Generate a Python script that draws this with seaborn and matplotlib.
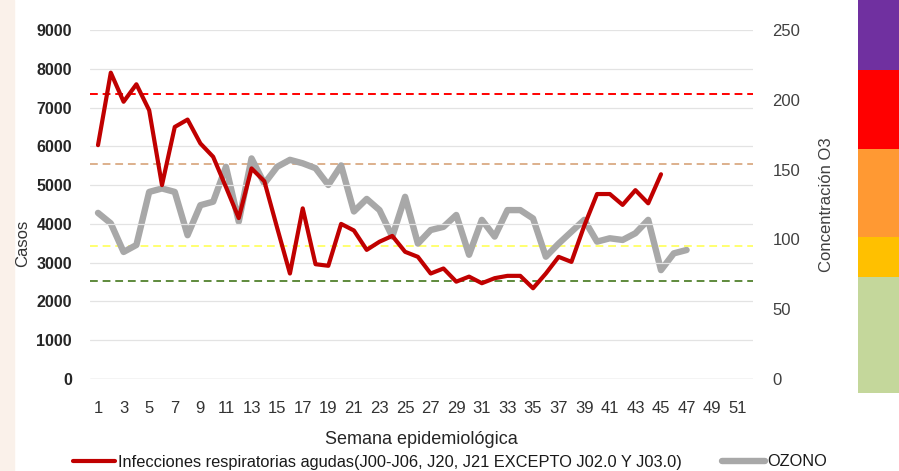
import numpy as np
import pandas as pd
import matplotlib
matplotlib.use("Agg")
import matplotlib.pyplot as plt
from matplotlib.lines import Line2D
from matplotlib.patches import Rectangle
import seaborn as sns

# weekly data
semanas_ira = list(range(1, 46))
ira = [6030, 7900, 7150, 7600, 6930, 5000, 6500, 6690, 6075, 5730,
       4950, 4150, 5430, 5100, 3900, 2720, 4400, 2960, 2920, 4000,
       3830, 3330, 3540, 3690, 3280, 3150, 2720, 2850, 2510, 2640,
       2470, 2600, 2660, 2660, 2340, 2720, 3150, 3020, 3950, 4770,
       4770, 4490, 4870, 4530, 5280]
semanas_o3 = list(range(1, 48))
ozono = [119, 111.5, 91, 96, 134, 136.5, 134, 103, 124.5, 127,
         152, 112.7, 158, 140, 152, 157, 154.5, 151, 139, 153,
         120, 129, 121, 102, 130.5, 97, 106.7, 109, 117.5, 89,
         114, 102, 121, 121, 115, 87.6, 97, 105.5, 114, 98.4,
         100.8, 99.6, 104.4, 114, 78, 90, 92.4]

# O3 reference levels (right axis)
umbrales = [70, 95, 154, 204]
umbral_colores = ["#5E8A3C", "#FFFF70", "#DDB08C", "#FF0000"]

# colour strip on the right side (segment heights, top to bottom)
franja_alto = [70, 79, 88, 40, 116]
franja_colores = ["#7030A0", "#FF0000", "#FF9933", "#FFC000", "#C4D79B"]

xticks = list(range(1, 52, 2))
left_ticks = list(range(0, 9001, 1000))
right_ticks = list(range(0, 251, 50))

lbl_ira = "Infecciones respiratorias agudas(J00-J06, J20, J21 EXCEPTO J02.0 Y J03.0)"
lbl_o3 = "OZONO"

sns.set_style("white")
plt.rcParams["font.family"] = ["Liberation Sans", "DejaVu Sans"]

W, H = 899, 471
fig = plt.figure(figsize=(W / 100, H / 100), dpi=100)
fig.patch.set_facecolor("white")
fig.patches.append(Rectangle((0, 0), 14 / W, 1, transform=fig.transFigure,
                             color="#FAF1EA", zorder=0))

ax = fig.add_axes([90 / W, (H - 379) / H, 663 / W, 349 / H])
ax2 = ax.twinx()

df_ira = pd.DataFrame({"semana": semanas_ira, "casos": ira})
df_o3 = pd.DataFrame({"semana": semanas_o3, "o3": ozono})

ax.set_ylim(0, 9000)
ax2.set_ylim(0, 250)
ax.set_xlim(0.375, 52.19)

for v in left_ticks[1:]:
    ax.axhline(v, color="#E3E3E3", lw=0.9, zorder=0)
ax.axhline(0, color="#C8C8C8", lw=1.0, zorder=0)

for v, c in zip(umbrales, umbral_colores):
    ax2.axhline(v, color=c, lw=1.4, ls=(0, (4, 2.5)), zorder=1)

sns.lineplot(data=df_o3, x="semana", y="o3", ax=ax2, color="#A8A8A8",
             lw=4.6, zorder=2)
sns.lineplot(data=df_ira, x="semana", y="casos", ax=ax, color="#C00000",
             lw=3.0, zorder=3)
# keep the red line over the ozone line
ax.set_zorder(ax2.get_zorder() + 1)
ax.patch.set_visible(False)
ax2.set_zorder(0)

for a in (ax, ax2):
    for s in a.spines.values():
        s.set_visible(False)
    a.tick_params(length=0)

ax.set_xticks(xticks)
ax.set_xticklabels([str(t) for t in xticks], fontsize=12, color="#333333")
ax.tick_params(axis="x", pad=16)
ax.set_yticks(left_ticks)
ax.set_yticklabels([str(t) for t in left_ticks], fontsize=11.5,
                   color="#262626", fontweight="bold")
ax.tick_params(axis="y", pad=13)
ax2.set_yticks(right_ticks)
ax2.set_yticklabels([str(t) for t in right_ticks], fontsize=12, color="#404040")
ax2.tick_params(axis="y", pad=14)

ax.set_xlabel("Semana epidemiológica", fontsize=13, color="#262626")
ax.xaxis.set_label_coords(0.5, -0.15)
ax.set_ylabel("Casos", fontsize=12, color="#333333")
ax.yaxis.set_label_coords(-0.09, 0.39)
ax2.set_ylabel("Concentración O3", fontsize=12, color="#404040")
ax2.yaxis.set_label_coords(1.1, 0.5)

handles = [Line2D([], [], color="#C00000", lw=3.0),
           Line2D([], [], color="#A8A8A8", lw=4.6)]
fig.legend(handles, [lbl_ira, lbl_o3], loc="center",
           bbox_to_anchor=(450 / W, 1 - 462 / H), ncol=2, frameon=False,
           fontsize=11.8, handlelength=2.6, handletextpad=0.15,
           columnspacing=2.5, labelcolor="#1A1A1A")

# colour strip
axs = fig.add_axes([858 / W, (H - 393) / H, 41 / W, 393 / H])
base = np.concatenate([[0], np.cumsum(franja_alto)[:-1]])
axs.bar([0] * len(franja_alto), franja_alto, bottom=base, width=1.0,
        color=franja_colores, linewidth=0)
axs.set_ylim(sum(franja_alto), 0)
axs.set_xlim(-0.5, 0.5)
axs.axis("off")

fig.savefig("out.png", dpi=100)
